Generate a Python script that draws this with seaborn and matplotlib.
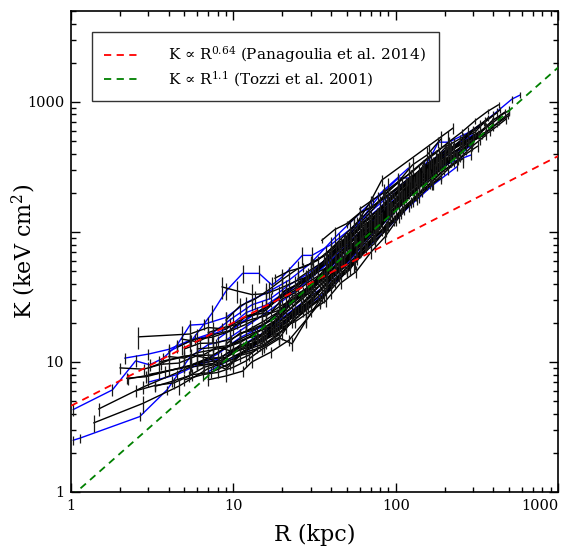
import numpy as np
import pandas as pd
import matplotlib
matplotlib.use("Agg")
import matplotlib.pyplot as plt
from matplotlib.ticker import NullFormatter
import seaborn as sns

# ---------------- data ----------------
blue_R = [
    [1.03, 1.8, 2.5, 3.05, 3.7, 4.5, 5.4, 6.6, 9, 12, 16, 22, 30, 42, 60, 85, 120],
    [5.4, 7.4, 9, 11.4, 14.4, 17.3, 20, 26.6, 30.5, 40, 55, 80, 110, 160, 230, 300],
    [1.03, 1.14, 2.65, 3.9, 5.4, 7, 9, 12, 16, 22, 30, 45, 65, 90, 130, 190, 270],
    [2.14, 3, 4, 5.4, 7, 9, 12, 16, 21, 28, 38, 52, 70, 100, 140, 200, 290],
    [8, 11, 15, 20, 28, 40, 55, 75, 100, 140, 200, 280, 400, 520, 585],
    [3, 4.5, 6, 8, 11, 15, 20, 28, 38, 52, 70, 95, 130, 180, 240, 290],
    [6, 8, 11, 15, 20, 27, 36, 48, 65, 88, 120, 160, 220, 290],
    [10, 14, 19, 25, 33, 45, 60, 78, 104, 133, 165, 183, 212, 280, 356],
    [4, 5.5, 7.5, 10, 13, 17, 22, 29, 38, 50, 66, 88, 115, 150, 200],
    [7, 9, 12, 16, 21, 28, 37, 50, 66, 90, 120, 170, 240],
]
blue_K = [
    [4.3, 6.1, 10.2, 9.5, 10.7, 13.5, 19.2, 19.5, 22, 28.6, 34, 42.5, 57.5, 90, 139, 211, 310],
    [14, 23.8, 35, 48, 48, 39, 45, 66, 66, 80, 110, 165, 235, 330, 460, 560],
    [2.5, 2.6, 3.8, 6.1, 10.9, 13.6, 14.7, 18.7, 24, 32, 44, 69, 106, 162, 236, 333, 425],
    [10.7, 11.5, 12.5, 14.7, 15.8, 17.9, 24, 27.5, 34.5, 43.7, 57.5, 81, 119, 175, 270, 384, 460],
    [15, 20, 25, 32, 45, 60, 90, 130, 180, 270, 400, 560, 800, 1050, 1130],
    [7, 8, 9.5, 10.5, 13.2, 16.5, 21.8, 30, 40, 60, 92, 135, 203, 295, 390, 460],
    [9.5, 11.5, 15.4, 18.7, 25.3, 34.5, 46, 69, 99, 145, 216, 282, 342, 390],
    [18, 24, 30, 40, 52, 75, 120, 185, 260, 260, 380, 490, 490, 580, 700],
    [12, 14.7, 16.8, 22, 27.5, 30.8, 39, 48, 63, 87.5, 125, 172, 236, 320, 422],
    [8.4, 10, 12.1, 15.4, 20.7, 26.5, 34.5, 50, 74, 108, 155, 230, 319],
]
blue_err_frac = [0.1, 0.15, 0.08, 0.1, 0.06, 0.08, 0.08, 0.1, 0.1, 0.08]

black_R = [
    [1.38, 2.77, 4.6, 7, 10, 14, 20, 28, 40, 55, 75, 100, 140, 190, 260],
    [1.48, 2.77, 5.4, 7.5, 10, 13, 17, 23, 31, 42, 57, 78, 105, 140, 190, 250],
    [2.6, 5.4, 7, 9, 12, 16, 21, 28, 37, 50, 68, 92, 125, 170, 230],
    [2.24, 3.5, 5, 6.5, 8.5, 11, 14, 18, 24, 32, 43, 58, 78, 105, 140, 190],
    [3, 4, 5.5, 7, 9, 12, 15, 20, 26, 34, 45, 60, 80, 110, 150],
    [3.5, 5, 6.5, 8, 10, 13, 16, 21, 27, 35, 46, 60, 80, 105, 140, 185, 250],
    [4.8, 6, 7.5, 9.5, 12, 15, 19, 24, 31, 40, 52, 68, 90, 120, 160, 210],
    [5, 6.5, 8, 10, 12, 15, 19, 24, 30, 38, 48, 62, 80, 105, 140, 190, 260, 360],
    [7, 9, 11.4, 13, 17, 22, 28, 34, 42, 52, 65, 82, 105, 135, 175, 230],
    [6, 7.5, 9, 11, 13, 15.5, 19, 23, 28, 35, 45, 58, 75, 100, 130],
    [8.5, 10.5, 13, 16, 20, 25, 31, 39, 49, 62, 80, 105, 140, 185, 250, 330],
    [4, 5, 6, 7.5, 9, 11, 13.5, 17, 21, 26, 33, 42, 53, 68, 88, 115, 150],
    [9, 11, 13, 15, 18, 22, 27, 33, 40, 50, 62, 78, 98, 125, 160, 205, 260, 330, 420],
    [12, 14, 17, 20, 24, 29, 35, 43, 53, 66, 82, 100, 125, 160, 200, 250, 320, 400, 500],
    [15, 19, 24, 30, 37, 46, 58, 70, 82, 226],
    [3, 4, 5.5, 7, 9, 11, 14, 18, 23, 29, 37, 47, 60, 77, 100, 130, 170],
    [2, 2.8, 3.6, 4.6, 6, 7.5, 9.5, 12, 15, 19, 24, 30, 38, 48, 60, 75],
    [20, 24, 28, 33, 39, 46, 55, 65, 78, 93, 110, 130, 155, 185, 220, 260, 310, 370],
    [10, 12, 14.5, 17.5, 21, 25, 30, 36, 43, 52, 62, 75, 90, 110, 135, 165, 200],
    [5, 6.2, 7.8, 9.7, 12, 15, 18.5, 23, 29, 36, 45, 56, 70, 88, 110, 140, 175, 220, 280],
    [8, 10, 12.5, 15.5, 19, 23, 28, 34, 41, 50, 61, 75, 92, 115, 145],
    [3.3, 4.2, 5.3, 6.6, 8.2, 10, 12.5, 15.5, 19, 24, 30, 37, 46, 57, 72, 90, 112, 140, 175, 220],
    [14, 17, 21, 26, 32, 40, 50, 62, 77, 95, 118, 146, 180, 225, 280, 350, 440],
    [6, 7.5, 9.5, 12, 15, 19, 24, 30, 38, 48, 60, 75, 95, 120, 150, 190, 240, 300, 380, 480],
    [9, 11, 13.5, 16.5, 20, 25, 30, 37, 45, 55, 68, 84, 103, 127, 156, 190],
    [4.5, 5.8, 7.4, 9.5, 12, 15, 19, 24, 30, 38, 48, 61, 77, 98, 124, 157, 200],
    [25, 30, 36, 43, 52, 62, 75, 90, 108, 130, 156, 188, 226, 270, 325, 390, 470],
    [11, 13, 15.5, 18.5, 22, 26, 31, 37, 44, 52, 62, 74, 88, 105, 125, 150, 180, 215, 255, 300],
    [15, 19, 24, 30, 37, 46, 57, 70, 86, 105, 128, 155, 190],
    [40, 48, 57, 68, 80, 95, 112, 132, 156, 184, 217, 256, 300, 355, 420, 495],
    [2.5, 3.3, 4.3, 5.6, 7.3, 9.5, 12.5, 16, 21, 27, 35, 45, 58, 75, 97, 125],
    [7, 8.5, 10.5, 13, 16, 19.5, 24, 29, 35, 43, 52, 63, 76, 92, 112, 136, 165, 200, 240, 290],
    [30, 36, 44, 53, 64, 77, 93, 112, 135, 162, 195, 235, 283, 340, 400],
    [50, 60, 72, 86, 103, 124, 148, 178, 213, 256, 307, 368, 440],
    [60, 72, 86, 103, 124, 148, 178, 213, 256, 307, 368, 430],
    [18, 22, 27, 33, 40, 48, 58, 70, 85, 103, 125, 150, 180, 218],
    [5.5, 7, 9, 11.5, 14.5, 18, 23, 29, 36, 45, 56, 70, 87, 108, 135, 168, 210, 260, 320],
    [2.2, 2.9, 3.8, 5, 6.5, 8.4, 11, 14.2, 18.5, 24, 31, 40, 52, 67, 87, 113, 146, 190],
    [12, 15, 18, 22, 27, 33, 40, 49, 60, 73, 89, 109, 133, 162, 198, 242, 295, 360],
    [35, 42, 50, 60, 72, 86, 103, 123, 147, 176, 210, 250, 300, 360, 430, 500],
]
black_K = [
    [3.4, 4.8, 6.5, 8.9, 10.5, 13.8, 17.3, 25.3, 36, 57.5, 83, 131, 196, 288, 366],
    [4.35, 6.4, 9.1, 9.7, 12.6, 13.8, 19.3, 26.5, 38, 54, 80, 116, 180, 250, 340, 407],
    [15.6, 16.4, 18.4, 17.9, 22.5, 25.3, 35.7, 42.5, 58.7, 85, 128, 173, 250, 314, 395],
    [7.4, 8.2, 9.2, 9.9, 10.3, 13.5, 14.1, 18.2, 24.2, 35.7, 51, 77.5, 110, 167, 223, 314],
    [8, 8.6, 9.3, 10.7, 9.2, 12.4, 14.9, 21.4, 27.6, 39, 55, 84.5, 116, 180, 238],
    [10, 11.1, 11.3, 13, 12, 14.7, 17.2, 23.9, 31, 42.5, 59, 90, 123, 181, 238, 326, 395],
    [15, 14.3, 16.2, 17.4, 22.5, 23.7, 30.6, 36.8, 49.5, 67.5, 96, 136, 207, 278, 378, 480],
    [7.3, 8, 8.3, 9.1, 10.2, 12.5, 15, 22.5, 28.8, 41.4, 59, 92, 128, 194, 265, 378, 484, 627],
    [7.3, 7.8, 8.5, 10, 11.9, 14.7, 21, 28.2, 41, 51, 78, 103, 159, 211, 301, 372],
    [9.5, 9.7, 8.8, 11.2, 11.9, 13.5, 16.1, 22.4, 27, 36.8, 51, 74, 106, 166, 224],
    [37.8, 35.2, 33, 33.5, 37.4, 42.5, 47, 61, 80, 115, 143, 209, 277, 378, 466, 578],
    [11, 10.7, 11.8, 12.4, 13, 15, 16.9, 18.5, 25.9, 31.6, 42.5, 59, 82.5, 116, 169, 232, 314],
    [13.7, 16.7, 17.4, 19.1, 21.6, 29.3, 35, 44.6, 59, 79, 104, 141, 186, 262, 326, 454, 537, 671, 825],
    [22, 23.4, 24, 30.5, 34, 41.2, 47.7, 64, 76, 107, 131, 178, 227, 301, 378, 478, 567, 726, 861],
    [25, 30.5, 35.5, 45.5, 57, 81, 118, 172, 250, 630],
    [9, 10.3, 11.3, 10.7, 12.9, 14.1, 16.8, 20.6, 29.2, 36.2, 46.7, 62, 88, 117, 171, 234, 311],
    [9, 8.8, 9.6, 9.8, 11.2, 11.3, 13.4, 15.1, 18, 21.6, 30.5, 38.5, 52.7, 71, 100, 131],
    [34.5, 38.5, 42, 48.9, 54.6, 70.6, 82, 107, 128, 163, 201, 252, 292, 375, 421, 525, 589, 753],
    [11, 12.4, 13.4, 16.8, 20.2, 24.6, 29.4, 38.6, 49.4, 64, 84.5, 114, 146, 207, 266, 339, 416],
    [12.6, 13.9, 14, 15, 17.3, 20.2, 23.8, 31.7, 37.4, 47, 64, 84, 111, 148, 193, 267, 316, 395, 500],
    [9.5, 11, 12.1, 13.2, 15.4, 13.8, 20.7, 30, 42.5, 50, 72.6, 95, 135, 189, 256],
    [6.5, 7.1, 7.8, 9.1, 9.8, 11.9, 13, 15.7, 18.4, 24.7, 29.4, 38.8, 52, 70, 94, 131, 166, 227, 278, 348],
    [24.2, 28, 34, 42, 50, 70, 86, 117, 144, 192, 240, 315, 380, 454, 560, 688, 869],
    [12.6, 12.9, 13.4, 15.2, 16.2, 20.2, 24.8, 31.7, 39.7, 58.5, 78, 104, 139, 193, 252, 326, 384, 502, 589, 740],
    [21, 27, 30.3, 35.8, 43, 52.3, 57, 67.3, 86, 111, 144, 187, 240, 328, 390, 518],
    [13, 15, 15.5, 17.2, 19.5, 22.6, 24.9, 30.5, 34, 43, 60.6, 83, 113, 153, 212, 265, 369],
    [43.7, 51.2, 59.2, 75.6, 86.9, 110, 128, 161, 190, 239, 273, 343, 386, 490, 556, 710, 835],
    [16.5, 17.9, 19.6, 23.4, 27.3, 32.7, 37.5, 45.4, 58, 72, 92, 117, 144, 189, 230, 294, 342, 435, 484, 608],
    [15.4, 18, 20.4, 24.7, 29.4, 40.6, 49.4, 69.3, 91.7, 130, 173, 234, 317],
    [68.8, 79.4, 90.6, 114, 131, 163, 192, 232, 260, 317, 374, 422, 504, 578, 677, 782],
    [6, 6.6, 6.9, 8, 8.3, 9.7, 11.3, 14.1, 18.1, 24.6, 31.7, 46.9, 61.9, 90.4, 123, 170],
    [16.8, 18.3, 19.4, 21.3, 22.7, 27, 30.6, 36.2, 42, 55.6, 65.6, 87, 104, 136, 167, 216, 253, 330, 375, 478],
    [57.5, 65, 79.4, 93, 113, 133, 161, 198, 242, 284, 343, 393, 481, 555, 638],
    [112, 139, 157, 186, 221, 266, 308, 356, 420, 477, 562, 644, 765],
    [150, 176, 204, 242, 283, 343, 407, 494, 587, 714, 845, 950],
    [44, 50, 53.5, 60.4, 74.4, 88, 104, 133, 160, 205, 247, 315, 369, 467],
    [9.5, 10.7, 10.8, 12.9, 14.1, 16.8, 20.4, 25.8, 31.7, 45.6, 56.9, 80.5, 102, 140, 180, 234, 303, 384, 457],
    [7.5, 7.7, 8.4, 9.1, 10.1, 10.9, 13.4, 15.2, 19, 23.8, 31.5, 43.3, 58, 81, 111, 150, 205, 260],
    [13.2, 15.1, 16.8, 21, 25, 31.5, 40.8, 51.9, 68, 87.8, 111, 150, 188, 233, 297, 358, 454, 556],
    [86, 104, 116, 140, 157, 183, 215, 255, 298, 338, 394, 439, 517, 586, 700, 819],
]
black_err_frac = [0.15, 0.12, 0.2, 0.1, 0.1, 0.12, 0.25, 0.1, 0.1, 0.1,
                  0.2, 0.12, 0.08, 0.08, 0.1, 0.12, 0.1, 0.06, 0.1, 0.08,
                  0.12, 0.1, 0.06, 0.08, 0.15, 0.1, 0.06, 0.08, 0.1, 0.05,
                  0.1, 0.08, 0.06, 0.05, 0.05, 0.08, 0.1, 0.1, 0.08, 0.05]

# power-law reference relations
red_amp, red_slope = 4.6, 0.64
green_amp, green_slope = 0.92, 1.1
legend_labels = ["K \u221d R$^{0.64}$ (Panagoulia et al. 2014)",
                 "K \u221d R$^{1.1}$ (Tozzi et al. 2001)"]

x_ticks = [1, 10, 100, 1000]
x_tick_labels = ["1", "10", "100", "1000"]
y_ticks = [1, 10, 100, 1000]
y_tick_labels = ["1", "10", "", "1000"]


def to_frame(Rs, Ks, fracs):
    rows = []
    for i, (r, k, f) in enumerate(zip(Rs, Ks, fracs)):
        for j, (a, b) in enumerate(zip(r, k)):
            rows.append((i, j, a, b, b * f))
    return pd.DataFrame(rows, columns=["profile", "step", "R", "K", "dK"])


df_blue = to_frame(blue_R, blue_K, blue_err_frac)
df_black = to_frame(black_R, black_K, black_err_frac)

# ---------------- drawing ----------------
sns.set_theme(style="ticks")
plt.rcParams["font.family"] = ["DejaVu Serif"]
plt.rcParams["mathtext.fontset"] = "dejavuserif"
plt.rcParams["text.color"] = "black"
plt.rcParams["axes.labelcolor"] = "black"
plt.rcParams["xtick.color"] = "black"
plt.rcParams["ytick.color"] = "black"

fig = plt.figure(figsize=(5.61, 5.52), dpi=100)
ax = fig.add_axes([0.1266, 0.1087, 0.8681, 0.8714])
ax.set_xscale("log")
ax.set_yscale("log")

for df, col in ((df_blue, "#0000ff"), (df_black, "black")):
    sns.lineplot(data=df, x="R", y="K", units="profile", estimator=None,
                 sort=False, color=col, lw=1.0, ax=ax, legend=False, zorder=2)
    ax.errorbar(df["R"], df["K"], yerr=df["dK"], fmt="none", ecolor="#1a1a1a",
                elinewidth=0.9, capsize=0, zorder=2.5)

r_line = np.logspace(0, 3.05, 200)
ax.plot(r_line, red_amp * r_line ** red_slope, color="red", lw=1.3,
        dashes=(4, 3), label=legend_labels[0], zorder=4)
ax.plot(r_line, green_amp * r_line ** green_slope, color="#008000", lw=1.3,
        dashes=(4, 3), label=legend_labels[1], zorder=4)

ax.set_xlim(1, 1000)
ax.set_ylim(1, 5000)
ax.set_xticks(x_ticks, x_tick_labels)
ax.set_yticks(y_ticks, y_tick_labels)
ax.xaxis.set_minor_formatter(NullFormatter())
ax.yaxis.set_minor_formatter(NullFormatter())
ax.tick_params(which="both", direction="in", top=True, right=True,
               width=1.0, color="black", labelcolor="black", labelsize=10.5, pad=5)
ax.tick_params(which="major", length=6.5)
ax.tick_params(which="minor", length=3.5)
ax.get_xticklabels()[-1].set_horizontalalignment("right")
for s in ax.spines.values():
    s.set_linewidth(1.2)
    s.set_color("black")

ax.set_xlabel("R (kpc)", fontsize=16, labelpad=8, color="black")
ax.set_ylabel("K (keV cm$^2$)", fontsize=16, labelpad=-8, color="black")

leg = ax.legend(loc="upper left", bbox_to_anchor=(0.043, 0.956),
                borderaxespad=0, fontsize=11, frameon=True, fancybox=False,
                edgecolor="black", handlelength=2.4, handletextpad=1.8,
                borderpad=0.8, labelspacing=0.25, labelcolor="black")
leg.get_frame().set_linewidth(1.0)

fig.savefig("out.png", dpi=100)
